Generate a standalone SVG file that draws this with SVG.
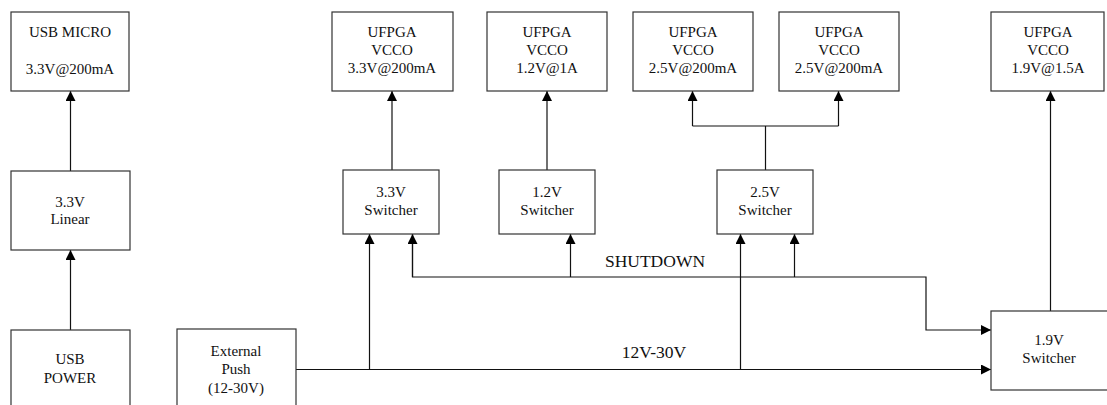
<svg xmlns="http://www.w3.org/2000/svg" width="1107" height="405" viewBox="0 0 1107 405">
<style>
.box{fill:#fff;stroke:#333;stroke-width:1.2}
.t{font-family:"Liberation Serif","Times New Roman",serif;font-size:15px;fill:#111;text-anchor:middle}
.lbl{font-family:"Liberation Serif","Times New Roman",serif;font-size:17.5px;fill:#111;text-anchor:middle}
.w{fill:none;stroke:#111;stroke-width:1.2}
</style>
<defs>
<marker id="ah" markerWidth="10" markerHeight="10" refX="10" refY="5" orient="auto" markerUnits="userSpaceOnUse">
<path d="M0,0 L10,5 L0,10 Z" fill="#000"/>
</marker>
</defs>
<rect width="1107" height="405" fill="#fff"/>
<g id="connectors">
<path class="w" d="M70.5,171 V91" marker-end="url(#ah)"/>
<path class="w" d="M70.5,330 V250" marker-end="url(#ah)"/>
<path class="w" d="M392,170 V91" marker-end="url(#ah)"/>
<path class="w" d="M547,170 V91" marker-end="url(#ah)"/>
<path class="w" d="M765.5,170 V126"/>
<path class="w" d="M692.5,126 H838.5"/>
<path class="w" d="M692.5,126 V91" marker-end="url(#ah)"/>
<path class="w" d="M838.5,126 V91" marker-end="url(#ah)"/>
<path class="w" d="M1050.5,311 V91" marker-end="url(#ah)"/>
<path class="w" d="M296,369.5 H991" marker-end="url(#ah)"/>
<path class="w" d="M369.5,369.5 V234" marker-end="url(#ah)"/>
<path class="w" d="M740.5,369.5 V234" marker-end="url(#ah)"/>
<path class="w" d="M412.5,234 V277 H926 V330 H991" marker-end="url(#ah)"/>
<path class="w" d="M412.5,277 V234" marker-end="url(#ah)"/>
<path class="w" d="M570.5,277 V234" marker-end="url(#ah)"/>
<path class="w" d="M794.5,277 V234" marker-end="url(#ah)"/>
<text class="lbl" x="655" y="267">SHUTDOWN</text>
<text class="lbl" x="654" y="358">12V-30V</text>
</g>
<g id="usb-micro">
<rect class="box" x="11" y="12" width="118" height="79"/>
<text class="t" x="70" y="37">USB MICRO</text>
<text class="t" x="70" y="74">3.3V@200mA</text>
</g>
<g id="linear-3v3">
<rect class="box" x="11" y="171" width="119" height="79"/>
<text class="t" x="70" y="207">3.3V</text>
<text class="t" x="70" y="224">Linear</text>
</g>
<g id="usb-power">
<rect class="box" x="11" y="330" width="119" height="90"/>
<text class="t" x="70" y="364">USB</text>
<text class="t" x="70" y="383">POWER</text>
</g>
<g id="ufpga-3v3">
<rect class="box" x="332" y="12" width="121" height="79"/>
<text class="t" x="392" y="37">UFPGA</text>
<text class="t" x="392" y="55">VCCO</text>
<text class="t" x="392" y="73">3.3V@200mA</text>
</g>
<g id="ufpga-1v2">
<rect class="box" x="487" y="12" width="120" height="79"/>
<text class="t" x="547" y="37">UFPGA</text>
<text class="t" x="547" y="55">VCCO</text>
<text class="t" x="547" y="73">1.2V@1A</text>
</g>
<g id="ufpga-2v5a">
<rect class="box" x="633" y="12" width="120" height="79"/>
<text class="t" x="693" y="37">UFPGA</text>
<text class="t" x="693" y="55">VCCO</text>
<text class="t" x="693" y="73">2.5V@200mA</text>
</g>
<g id="ufpga-2v5b">
<rect class="box" x="779" y="12" width="120" height="79"/>
<text class="t" x="839" y="37">UFPGA</text>
<text class="t" x="839" y="55">VCCO</text>
<text class="t" x="839" y="73">2.5V@200mA</text>
</g>
<g id="ufpga-1v9">
<rect class="box" x="991" y="12" width="113" height="79"/>
<text class="t" x="1048" y="37">UFPGA</text>
<text class="t" x="1048" y="55">VCCO</text>
<text class="t" x="1048" y="73">1.9V@1.5A</text>
</g>
<g id="sw-3v3">
<rect class="box" x="343" y="170" width="96" height="64"/>
<text class="t" x="391" y="197">3.3V</text>
<text class="t" x="391" y="215">Switcher</text>
</g>
<g id="sw-1v2">
<rect class="box" x="499" y="170" width="96" height="64"/>
<text class="t" x="547" y="197">1.2V</text>
<text class="t" x="547" y="215">Switcher</text>
</g>
<g id="sw-2v5">
<rect class="box" x="717" y="170" width="96" height="64"/>
<text class="t" x="765" y="197">2.5V</text>
<text class="t" x="765" y="215">Switcher</text>
</g>
<g id="sw-1v9">
<rect class="box" x="991" y="311" width="120" height="79"/>
<text class="t" x="1049" y="345">1.9V</text>
<text class="t" x="1049" y="363">Switcher</text>
</g>
<g id="external-push">
<rect class="box" x="177" y="329" width="119" height="90"/>
<text class="t" x="236" y="356">External</text>
<text class="t" x="236" y="374">Push</text>
<text class="t" x="236" y="393">(12-30V)</text>
</g>
</svg>
